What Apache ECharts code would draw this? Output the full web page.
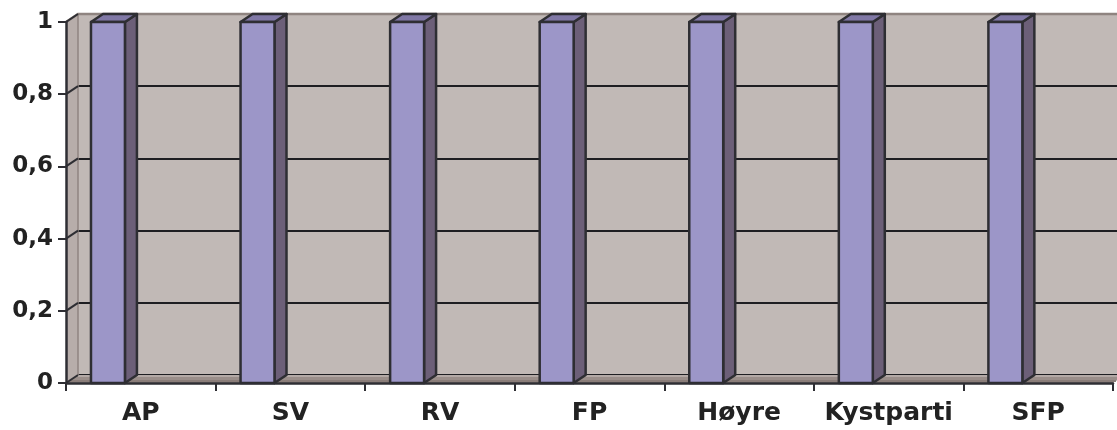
<!DOCTYPE html>
<html>
<head>
<meta charset="utf-8">
<script src="https://cdn.jsdelivr.net/npm/echarts@6/dist/echarts.min.js"></script>
<style>html,body{margin:0;padding:0;background:#fff}#c{width:1117px;height:430px}</style>
</head>
<body>
<div id="c"></div>
<script>
var categories = ['AP', 'SV', 'RV', 'FP', 'Høyre', 'Kystparti', 'SFP'];
var values = [1, 1, 1, 1, 1, 1, 1];
var yTicks = [0, 0.2, 0.4, 0.6, 0.8, 1];

var DX = 12, DY = -8;
var EDGE = '#2e2e33';
var chart = echarts.init(document.getElementById('c'));

function wallItem(params, api) {
  var p0 = api.coord([0, 0]);
  var bw = api.size([1, 0])[0];
  var left = p0[0] - bw / 2;
  var right = left + bw * categories.length;
  var yb = p0[1];
  var yt = api.coord([0, 1])[1];
  var children = [];
  // left side wall
  children.push({type: 'polygon', shape: {points: [[left, yt], [left + DX, yt + DY], [left + DX, yb + DY], [left, yb]]},
    style: {fill: '#b7adaa', stroke: null}});
  children.push({type: 'line', shape: {x1: left + DX, y1: yt + DY, x2: left + DX, y2: yb + DY}, style: {stroke: '#8f8480', lineWidth: 1.5}});
  // floor
  children.push({type: 'polygon', shape: {points: [[left, yb], [left + DX, yb + DY], [right + DX, yb + DY], [right, yb]]},
    style: {fill: '#9a8e8a', stroke: null}});
  children.push({type: 'line', shape: {x1: left + DX, y1: yb + DY + 1, x2: right + DX, y2: yb + DY + 1}, style: {stroke: '#b3a9a6', lineWidth: 2}});
  children.push({type: 'line', shape: {x1: left + 3, y1: yb - 2, x2: right + 3, y2: yb - 2}, style: {stroke: '#8a7d79', lineWidth: 2}});
  // top edge of back wall and side wall
  children.push({type: 'polyline', shape: {points: [[left, yt], [left + DX, yt + DY], [right + DX + 20, yt + DY]]},
    style: {stroke: '#8f8480', lineWidth: 2.5, fill: null}});
  // diagonal tick connectors
  for (var i = 0; i < yTicks.length; i++) {
    var y = api.coord([0, yTicks[i]])[1];
    children.push({type: 'line', shape: {x1: left, y1: y, x2: left + DX, y2: y + DY}, style: {stroke: EDGE, lineWidth: 2}});
  }
  return {type: 'group', children: children};
}

function barItem(params, api) {
  var idx = api.value(0);
  var v = api.value(1);
  var p0 = api.coord([idx, 0]);
  var p1 = api.coord([idx, v]);
  var bw = api.size([1, 0])[0];
  var x0 = p0[0] - 0.333 * bw;
  var x1 = p0[0] - 0.106 * bw;
  var yb = p0[1], yt = p1[1];
  var st = {stroke: EDGE, lineWidth: 2.5, lineJoin: 'round'};
  return {type: 'group', children: [
    {type: 'polygon', shape: {points: [[x1, yt], [x1 + DX, yt + DY], [x1 + DX, yb + DY], [x1, yb]]},
      style: Object.assign({fill: '#6c5f78'}, st)},
    {type: 'polygon', shape: {points: [[x0, yt], [x0 + DX, yt + DY], [x1 + DX, yt + DY], [x1, yt]]},
      style: Object.assign({fill: '#8078a6'}, st)},
    {type: 'rect', shape: {x: x0, y: yt, width: x1 - x0, height: yb - yt},
      style: Object.assign({fill: '#9c96c8'}, st)}
  ]};
}

var barData = values.map(function (v, i) { return [i, v]; });

chart.setOption({
  animation: false,
  grid: [
    {left: 66, right: 4, top: 22, bottom: 47},
    {left: 78, right: 0, top: 14, bottom: 55, show: true, backgroundColor: '#c1b9b6', borderWidth: 0}
  ],
  xAxis: [
    {type: 'category', gridIndex: 0, data: categories, boundaryGap: true,
      axisLine: {lineStyle: {color: EDGE, width: 2.5}},
      axisTick: {show: true, interval: 0, length: 8, lineStyle: {color: EDGE, width: 2}},
      axisLabel: {interval: 0, margin: 18, fontFamily: 'DejaVu Sans', fontWeight: 'bold', fontSize: 25, color: '#222'},
      splitLine: {show: false}, z: 5},
    {type: 'category', gridIndex: 1, data: categories, show: false}
  ],
  yAxis: [
    {type: 'value', gridIndex: 0, min: 0, max: 1, interval: 0.2,
      axisLine: {show: true, lineStyle: {color: EDGE, width: 2.5}},
      axisTick: {show: true, length: 8, lineStyle: {color: EDGE, width: 2}},
      axisLabel: {margin: 13, fontFamily: 'DejaVu Sans', fontWeight: 'bold', fontSize: 23, color: '#222',
        formatter: function (v) { return String(Math.round(v * 10) / 10).replace('.', ','); }},
      splitLine: {show: false}, z: 5},
    {type: 'value', gridIndex: 1, min: 0, max: 1, interval: 0.2,
      axisLine: {show: false}, axisTick: {show: false}, axisLabel: {show: false},
      splitLine: {show: true, lineStyle: {color: '#1e1e22', width: 2}}}
  ],
  series: [
    {type: 'custom', xAxisIndex: 0, yAxisIndex: 0, data: [[0, 0]], renderItem: wallItem, clip: false, silent: true, z: 1},
    {type: 'custom', name: 'Parti', xAxisIndex: 0, yAxisIndex: 0, data: barData, renderItem: barItem, clip: false, z: 3,
      encode: {x: 0, y: 1}}
  ]
});
</script>
</body>
</html>
